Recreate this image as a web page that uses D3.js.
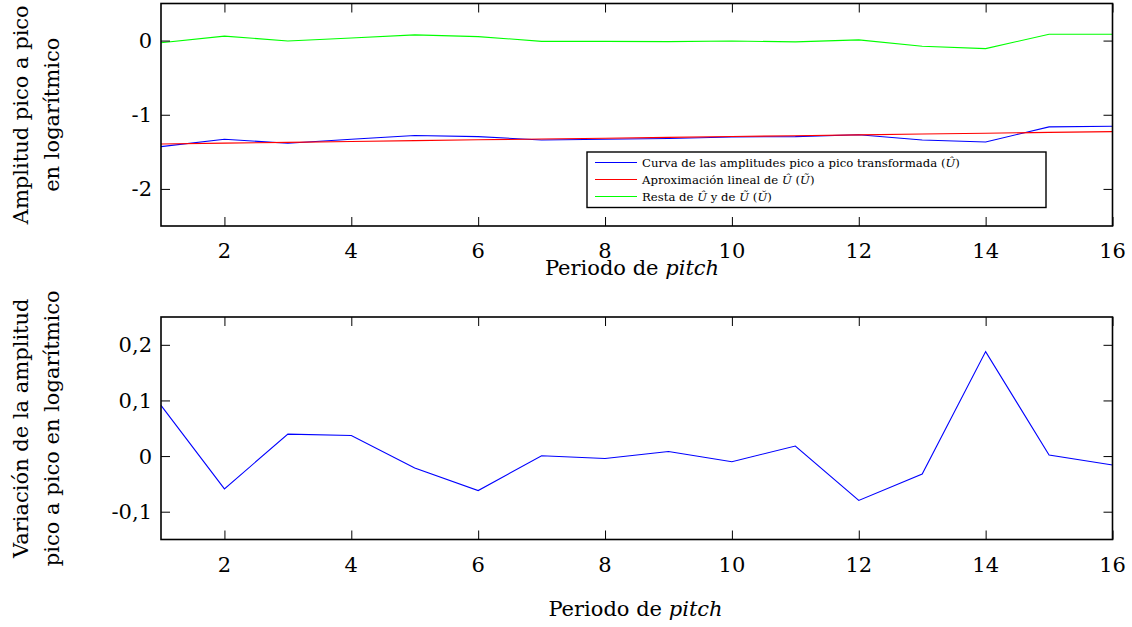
<!DOCTYPE html>
<html><head><meta charset="utf-8">
<script src="https://cdn.jsdelivr.net/npm/d3@7"></script>
<style>
body{margin:0;background:#fff;}
svg{display:block;font-family:"DejaVu Serif",serif;}
</style></head>
<body><svg id="c" width="1132" height="627"></svg>
<script>
// ---- data ----
const periods = [1,2,3,4,5,6,7,8,9,10,11,12,13,14,15,16];
const curvaU = [-1.43,-1.33,-1.385,-1.33,-1.28,-1.295,-1.34,-1.33,-1.32,-1.30,-1.295,-1.27,-1.34,-1.367,-1.164,-1.155];
const aproxU = [-1.394,-1.383,-1.372,-1.361,-1.349,-1.338,-1.327,-1.316,-1.305,-1.294,-1.283,-1.272,-1.260,-1.249,-1.238,-1.227];
const restaU = [-0.03,0.06,-0.005,0.035,0.077,0.054,-0.01,-0.01,-0.014,-0.005,-0.018,0.009,-0.077,-0.108,0.085,0.085];
const variacion = [0.091,-0.059,0.0395,0.037,-0.0215,-0.062,0.0005,-0.0043,0.0083,-0.0102,0.018,-0.0797,-0.0323,0.1878,0.0018,-0.016];
const xTicks = [2,4,6,8,10,12,14,16];
const yTicksTop = [0,-1,-2];
const yTicksBottom = [0.2,0.1,0,-0.1];
const legendLabels = [
  ["Curva de las amplitudes pico a pico transformada (","Û",")"],
  ["Aproximación lineal de ","Û"," (","Ũ",")"],
  ["Resta de ","Û"," y de ","Ũ"," (","Ŭ",")"]
];
const colors = ["#0000ff","#ff0000","#00ff00"];

const svg = d3.select("#c");
const fmt = d => String(d).replace(".", ",");

function panel(top, bottom, yDomain, yTicks, series, ylabLines) {
  const x = d3.scaleLinear().domain([1,16]).range([161,1112.5]);
  const y = d3.scaleLinear().domain(yDomain).range([bottom, top]);
  const g = svg.append("g");
  const T = 9;
  series.forEach(s => {
    g.append("path").datum(s.values)
      .attr("fill","none").attr("stroke",s.color).attr("stroke-width",1.1)
      .attr("d", d3.line().x((d,i)=>x(periods[i])).y(d=>y(d)));
  });
  const axB = d3.axisBottom(x).tickValues(xTicks).tickSize(-T).tickFormat("");
  const axT = d3.axisTop(x).tickValues(xTicks).tickSize(-T).tickFormat("");
  const axL = d3.axisLeft(y).tickValues(yTicks).tickSize(-T).tickFormat("");
  const axR = d3.axisRight(y).tickValues(yTicks).tickSize(-T).tickFormat("");
  [[axB,`translate(0,${bottom})`],[axT,`translate(0,${top})`],[axL,`translate(161,0)`],[axR,`translate(1112.5,0)`]].forEach(([a,t])=>{
    const ag = g.append("g").attr("transform",t).call(a);
    ag.select(".domain").remove();
    ag.selectAll("line").attr("stroke","#000").attr("stroke-width",1);
  });
  g.append("rect").attr("x",161).attr("y",top).attr("width",1112.5-161).attr("height",bottom-top)
    .attr("fill","none").attr("stroke","#000").attr("stroke-width",1.6);
  g.selectAll(".xl").data(xTicks).enter().append("text")
    .attr("x",d=>x(d)).attr("y",bottom+32).attr("text-anchor","middle")
    .attr("font-size",21).attr("fill","#000").text(d=>d);
  g.selectAll(".yl").data(yTicks).enter().append("text")
    .attr("x",152).attr("y",d=>y(d)).attr("dy","0.36em").attr("text-anchor","end")
    .attr("font-size",21).attr("fill","#000").text(d=>fmt(d));
  const cy = (top+bottom)/2;
  ylabLines.forEach((l,i)=>{
    g.append("text").attr("transform",`translate(${i===0?21:52},${cy}) rotate(-90)`)
      .attr("text-anchor","middle").attr("dominant-baseline","central")
      .attr("font-size",21).attr("fill","#000").text(l);
  });
  return {x,y,g};
}

function xlabel(xPos, yPos){
  const t = svg.append("text").attr("x",xPos).attr("y",yPos).attr("text-anchor","middle")
    .attr("font-size",21).attr("fill","#000");
  t.append("tspan").text("Periodo de ");
  t.append("tspan").attr("font-style","italic").text("pitch");
}

panel(3.5, 226, [-2.5,0.5], yTicksTop, [
  {values:curvaU,color:colors[0]},
  {values:aproxU,color:colors[1]},
  {values:restaU,color:colors[2]}
], ["Amplitud pico a pico","en logarítmico"]);
xlabel(632, 275);

panel(317, 539.5, [-0.15,0.25], yTicksBottom, [
  {values:variacion,color:colors[0]}
], ["Variación de la amplitud","pico a pico en logarítmico"]);
xlabel(635.5, 616);

// legend
const lg = svg.append("g");
lg.append("rect").attr("x",587).attr("y",152).attr("width",459).attr("height",55.5)
  .attr("fill","#fff").attr("stroke","#000").attr("stroke-width",1.4);
legendLabels.forEach((parts,i)=>{
  const yy = 162.5 + i*17;
  lg.append("line").attr("x1",595).attr("x2",637).attr("y1",yy).attr("y2",yy)
    .attr("stroke",colors[i]).attr("stroke-width",1.2);
  const t = lg.append("text").attr("x",642).attr("y",yy).attr("dy","0.35em")
    .attr("font-size",11.7).attr("fill","#000");
  parts.forEach(p=>{
    const ts = t.append("tspan").text(p);
    if (["Û","Ũ","Ŭ"].includes(p)) ts.attr("font-style","italic");
  });
});
</script></body></html>
